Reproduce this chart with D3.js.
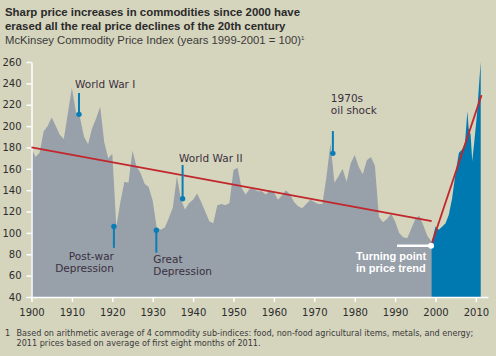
<!DOCTYPE html>
<html><head><meta charset="utf-8">
<script src="https://cdn.jsdelivr.net/npm/d3@7"></script>
<style>body{margin:0;background:#d5d4bd;}svg{display:block}</style>
</head><body>
<svg id="c" width="496" height="356"></svg>
<script>
// ---- data ----
const years = d3.range(1900, 2000);
const values = [179,171,175,195,200,208,200,192,188,212,
  236,213,208,190,183,198,207,218,185,170,
  174,106,129,148,147,177,162,156,146,143,
  130,105,103,105,114,124,153,131,122,128,
  131,137,129,120,111,109,126,127,126,128,
  159,161,142,136,141,141,139,139,136,140,
  138,131,135,140,136,129,125,123,127,131,
  129,127,127,152,184,147,153,160,148,165,
  173,162,155,168,171,163,115,110,113,118,
  111,100,96,95,104,113,116,107,97,92];
const blueYears = [1999,2000,2000.8,2001.7,2002.5,2003.3,2004.1,2005,2005.8,2006.6,2007.3,2007.9,2008.2,2008.7,2009.1,2009.6,2010.3,2010.9,2011.2];
const blueValues = [90,106,103,106,109,117,132,157,175,178,184,214,198,192,167,185,212,245,260];
const xTicks = d3.range(1900, 2011, 10);
const yTicks = d3.range(40, 261, 20);
const trendOldYears = [1900, 1999.06];
const trendOldValues = [180, 111];
const trendNewYears = [1998.9, 2011.4];
const trendNewValues = [88, 229];
const annYears = [1911.76, 1937.4, 1920.4, 1930.9, 1974.6];
const annValues = [211, 132, 106, 102.5, 174.5];
const annEnds = [231, 163.6, 86, 81.5, 195.4];
const annLabels = [["World War I"],["World War II"],["Post-war","Depression"],["Great","Depression"],["1970s","oil shock"]];
const turnYear = 1998.9, turnValue = 88;

const svg = d3.select("#c");
const W = 496, H = 356;
const x = d3.scaleLinear().domain([1900, 2013]).range([31.5, 488]);
const y = d3.scaleLinear().domain([40, 260]).range([297, 62]);

svg.append("rect").attr("width", W).attr("height", H).attr("fill", "#d5d4bd");

// titles
const title = svg.append("text").attr("x", 5).attr("font-family", "Liberation Sans, Arial, sans-serif")
  .attr("font-weight", "bold").attr("font-size", 11.4).attr("fill", "#2a2a2a");
title.append("tspan").attr("x", 5).attr("y", 16).text("Sharp price increases in commodities since 2000 have");
title.append("tspan").attr("x", 5).attr("y", 30).text("erased all the real price declines of the 20th century");
const sub = svg.append("text").attr("x", 5).attr("y", 44).attr("font-family", "Liberation Sans, Arial, sans-serif")
  .attr("font-size", 11.3).attr("fill", "#3a3a3a");
sub.append("tspan").text("McKinsey Commodity Price Index (years 1999-2001 = 100)");
sub.append("tspan").attr("font-size", 6).attr("dy", -4).text("1");

// areas
const pre = years.map((yr, i) => [yr, values[i]]);
const post = blueYears.map((yr, i) => [yr, blueValues[i]]);
const area = d3.area().x(d => x(d[0])).y0(y(40)).y1(d => y(d[1]));
svg.append("path").datum(pre).attr("d", area).attr("fill", "#98a0aa");
svg.append("path").datum(post).attr("d", area).attr("fill", "#0079b1");

// axes
const yAxis = svg.append("g").attr("transform", `translate(${x(1900)},0)`)
  .call(d3.axisLeft(y).tickValues(yTicks).tickSize(5).tickPadding(5).tickSizeOuter(0));
const xAxis = svg.append("g").attr("transform", `translate(0,${y(40)})`)
  .call(d3.axisBottom(x).tickValues(xTicks).tickFormat(d3.format("d")).tickSize(5).tickPadding(7).tickSizeOuter(0));
[yAxis, xAxis].forEach(g => {
  g.selectAll("path,line").attr("stroke", "#ffffff").attr("stroke-width", 1.5);
  g.selectAll("text").attr("fill", "#2d2d2d").attr("font-family", "DejaVu Sans, sans-serif").attr("font-size", 10);
});

// trend lines
const line = d3.line().x(d => x(d[0])).y(d => y(d[1]));
svg.append("path").datum(trendOldYears.map((yr, i) => [yr, trendOldValues[i]]))
  .attr("d", line).attr("stroke", "#c1272d").attr("stroke-width", 1.8).attr("fill", "none");
svg.append("path").datum(trendNewYears.map((yr, i) => [yr, trendNewValues[i]]))
  .attr("d", line).attr("stroke", "#c1272d").attr("stroke-width", 1.8).attr("fill", "none");

// annotations
const blue = "#0a7db6";
const labelPos = [
  {dx: -4, dy: -5, anchor: "start"},
  {dx: -3.5, dy: -3, anchor: "start"},
  {dx: 0, dy: 12, anchor: "end"},
  {dx: -3, dy: 10.5, anchor: "start"},
  {dx: -2, dy: -17, anchor: "start"}
];
annYears.forEach((yr, i) => {
  const px = x(yr);
  svg.append("line").attr("x1", px).attr("x2", px).attr("y1", y(annValues[i])).attr("y2", y(annEnds[i]))
    .attr("stroke", blue).attr("stroke-width", 2);
  svg.append("circle").attr("cx", px).attr("cy", y(annValues[i])).attr("r", 2.7).attr("fill", blue);
  const p = labelPos[i];
  const up = annEnds[i] > annValues[i];
  const t = svg.append("text").attr("font-family", "DejaVu Sans, sans-serif").attr("font-size", 10.5)
    .attr("fill", "#3a3040").attr("text-anchor", p.anchor);
  annLabels[i].forEach((s, j) => {
    t.append("tspan").attr("x", px + p.dx)
      .attr("y", y(annEnds[i]) + p.dy + (up ? -(annLabels[i].length - 1 - j) * 12 : j * 12)).text(s);
  });
});

// turning point
const tpx = x(turnYear), tpy = y(turnValue);
svg.append("line").attr("x1", tpx - 34).attr("x2", tpx).attr("y1", tpy).attr("y2", tpy)
  .attr("stroke", "#ffffff").attr("stroke-width", 2.5);
svg.append("circle").attr("cx", tpx).attr("cy", tpy).attr("r", 3).attr("fill", "#ffffff");
const tt = svg.append("text").attr("font-family", "Liberation Sans, Arial, sans-serif").attr("font-weight", "bold")
  .attr("font-size", 11).attr("fill", "#ffffff");
tt.append("tspan").attr("x", tpx - 75).attr("y", tpy + 14.5).text("Turning point");
tt.append("tspan").attr("x", tpx - 75).attr("y", tpy + 26).text("in price trend");

// footnote
const fn = svg.append("g").attr("font-family", "DejaVu Sans, sans-serif").attr("font-size", 8.1).attr("fill", "#3a3a3a");
fn.append("text").attr("x", 5).attr("y", 336).text("1");
fn.append("text").attr("x", 16.5).attr("y", 336).text("Based on arithmetic average of 4 commodity sub-indices: food, non-food agricultural items, metals, and energy;");
fn.append("text").attr("x", 16.5).attr("y", 346).text("2011 prices based on average of first eight months of 2011.");
</script>
</body></html>
